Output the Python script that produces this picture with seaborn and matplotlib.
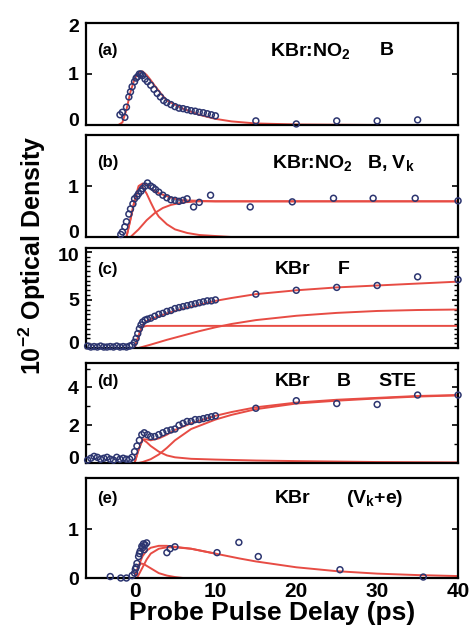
import numpy as np
import pandas as pd
import matplotlib
matplotlib.use('Agg')
import matplotlib.pyplot as plt
from matplotlib.ticker import MultipleLocator
from matplotlib.transforms import ScaledTranslation
import seaborn as sns

# ---- data ----
# (a) KBr:NO2  B
a_t = [-1.8, -1.5, -1.2, -1.0, -0.7, -0.5, -0.3, 0.0, 0.2, 0.4, 0.6, 0.8, 1.0, 1.3, 1.6, 2.0, 2.4,
       2.8, 3.2, 3.6, 4.0, 4.5, 5.0, 5.5, 6.0, 6.5, 7.0, 7.5, 8.0, 8.5, 9.0, 9.5, 10, 15, 20, 25, 30, 35]
a_od = [0.2, 0.25, 0.15, 0.35, 0.55, 0.65, 0.75, 0.85, 0.92, 0.95, 1.0, 1.0, 0.97, 0.9, 0.85, 0.78, 0.7,
        0.62, 0.55, 0.48, 0.44, 0.4, 0.36, 0.33, 0.32, 0.3, 0.28, 0.27, 0.25, 0.24, 0.22, 0.2, 0.18,
        0.08, 0.02, 0.08, 0.08, 0.1]
a_fit_t = [-6, -2, -1.5, -1.0, -0.5, 0, 0.5, 1.0, 1.5, 2.0, 2.5, 3.0, 3.5, 4.0, 5.0, 6.0, 7.0, 8.0,
           10, 12, 15, 20, 30, 40]
a_fit = [0, 0, 0.05, 0.3, 0.65, 0.9, 1.03, 1.05, 0.98, 0.88, 0.77, 0.67, 0.57, 0.48, 0.4, 0.32, 0.26,
         0.2, 0.12, 0.07, 0.03, 0.01, 0.0, 0.0]

# (b) KBr:NO2  B, Vk
b_t = [-1.7, -1.5, -1.2, -1.0, -0.7, -0.5, -0.2, 0.0, 0.3, 0.5, 0.8, 1.0, 1.3, 1.6, 2.0, 2.3, 2.6,
       3.0, 3.5, 4.0, 4.5, 5.0, 5.5, 6.0, 6.5, 7.3, 8.0, 9.4, 14.3, 19.5, 24.6, 29.5, 34.7, 40]
b_od = [0.05, 0.1, 0.2, 0.3, 0.45, 0.55, 0.65, 0.75, 0.8, 0.85, 0.9, 0.95, 1.0, 1.06, 1.0, 0.97, 0.93,
        0.88, 0.82, 0.77, 0.73, 0.72, 0.7, 0.72, 0.75, 0.59, 0.68, 0.82, 0.59, 0.69, 0.76, 0.76, 0.76, 0.71]
b_tot_t = [-6, -1.0, -0.5, 0, 0.5, 1.0, 1.5, 2.0, 2.5, 3.0, 4.0, 5.0, 6.0, 8.0, 10, 40]
b_tot = [0, 0, 0.35, 0.72, 1.0, 1.05, 1.02, 0.95, 0.9, 0.86, 0.8, 0.75, 0.72, 0.71, 0.7, 0.7]
b_b_t = [-1.0, -0.5, 0, 0.5, 1.0, 1.5, 2.0, 2.5, 3.0, 4.0, 5.0, 6.5, 8.0, 10, 12, 40]
b_b = [0, 0.35, 0.7, 0.95, 0.98, 0.85, 0.68, 0.52, 0.4, 0.25, 0.15, 0.08, 0.04, 0.02, 0.0, 0.0]
b_vk_t = [-0.5, 0.5, 1.5, 2.5, 3.5, 4.5, 6.0, 8.0, 40]
b_vk = [0, 0.15, 0.33, 0.47, 0.57, 0.63, 0.68, 0.7, 0.7]

# (c) KBr  F
c_t = [-5.8, -5.4, -5.0, -4.6, -4.2, -3.8, -3.4, -3.0, -2.6, -2.2, -1.8, -1.4, -1.0, -0.6, -0.3,
       0.0, 0.2, 0.4, 0.6, 0.8, 1.0, 1.3, 1.6, 2.0, 2.5, 3.0, 3.5, 4.0, 4.5, 5.0, 5.5, 6.0, 6.5,
       7.0, 7.5, 8.0, 8.5, 9.0, 9.5, 10, 15, 20, 25, 30, 35, 40]
c_od = [0.2, 0.1, 0.15, 0.1, 0.2, 0.1, 0.1, 0.15, 0.1, 0.2, 0.1, 0.15, 0.1, 0.2, 0.3,
        0.6, 1.0, 1.5, 2.0, 2.4, 2.7, 2.9, 3.0, 3.1, 3.3, 3.5, 3.6, 3.8, 3.9, 4.1, 4.2, 4.3, 4.4,
        4.5, 4.6, 4.7, 4.8, 4.9, 4.9, 5.0, 5.6, 6.0, 6.3, 6.5, 7.4, 7.1]
c_tot_t = [-6, 0, 0.5, 1.0, 1.5, 2, 3, 4, 6, 8, 10, 12, 15, 20, 25, 30, 35, 40]
c_tot = [0, 0, 1.3, 2.4, 2.8, 3.0, 3.3, 3.6, 4.1, 4.5, 4.9, 5.2, 5.6, 6.0, 6.3, 6.5, 6.7, 6.9]
c_f1_t = [0, 0.5, 1.0, 1.5, 40]
c_f1 = [0, 1.2, 2.2, 2.3, 2.3]
c_f2_t = [0.5, 2, 4, 6, 8, 10, 12, 15, 20, 25, 30, 35, 40]
c_f2 = [0, 0.35, 0.85, 1.3, 1.75, 2.15, 2.5, 2.9, 3.35, 3.65, 3.85, 3.95, 4.0]

# (d) KBr  B  STE
d_t = [-5.8, -5.4, -5.0, -4.6, -4.2, -3.8, -3.4, -3.0, -2.6, -2.2, -1.8, -1.4, -1.0, -0.6, -0.3,
       0.0, 0.3, 0.6, 0.9, 1.2, 1.6, 2.0, 2.5, 3.0, 3.5, 4.0, 4.5, 5.0, 5.5, 6.0, 6.5, 7.0, 7.5,
       8.0, 8.5, 9.0, 9.5, 10, 15, 20, 25, 30, 35, 40]
d_od = [0.15, 0.25, 0.35, 0.3, 0.2, 0.25, 0.3, 0.2, 0.15, 0.3, 0.2, 0.25, 0.2, 0.2, 0.3,
        0.6, 0.9, 1.2, 1.5, 1.6, 1.5, 1.4, 1.4, 1.5, 1.6, 1.7, 1.75, 1.8, 2.0, 2.1, 2.2, 2.2, 2.3,
        2.3, 2.35, 2.4, 2.45, 2.5, 2.9, 3.3, 3.15, 3.1, 3.6, 3.6]
d_tot_t = [0, 0.5, 1.0, 1.5, 2, 3, 4, 5, 7, 10, 12, 15, 20, 25, 30, 35, 40]
d_tot = [0, 0.7, 1.25, 1.25, 1.2, 1.3, 1.5, 1.75, 2.1, 2.5, 2.7, 2.95, 3.2, 3.35, 3.45, 3.55, 3.6]
d_b_t = [0, 0.5, 1.0, 1.5, 2, 3, 4, 5, 7, 10, 15, 20, 30, 40]
d_b = [0, 0.7, 1.25, 1.1, 0.9, 0.6, 0.4, 0.3, 0.22, 0.18, 0.13, 0.1, 0.05, 0.03]
d_ste_t = [0.5, 1, 2, 3, 4, 5, 7, 10, 12, 15, 20, 25, 30, 35, 40]
d_ste = [0, 0.05, 0.2, 0.45, 0.8, 1.2, 1.8, 2.3, 2.55, 2.85, 3.15, 3.3, 3.42, 3.52, 3.58]

# (e) KBr  (Vk+e)
e_t = [-3.0, -1.7, -1.0, -0.3, 0.0, 0.1, 0.2, 0.3, 0.5, 0.6, 0.7, 0.9, 1.0, 1.1, 1.2, 1.3, 1.5,
       4.0, 4.4, 5.0, 10.2, 12.9, 15.3, 25.4, 35.7]
e_od = [0.03, 0.0, 0.0, 0.05, 0.1, 0.18, 0.22, 0.3, 0.44, 0.5, 0.55, 0.65, 0.62, 0.7, 0.58, 0.68, 0.72,
        0.52, 0.6, 0.64, 0.52, 0.73, 0.44, 0.17, 0.02]
e_tot_t = [-6, 0, 0.5, 1.0, 1.5, 2, 3, 4, 5, 7, 10, 13, 15, 20, 25, 30, 35, 40]
e_tot = [0, 0, 0.25, 0.45, 0.56, 0.62, 0.66, 0.66, 0.64, 0.6, 0.5, 0.4, 0.34, 0.22, 0.14, 0.09, 0.06, 0.04]
e_fast_t = [0, 0.4, 0.8, 1.2, 2, 3, 4, 5, 6]
e_fast = [0, 0.2, 0.3, 0.28, 0.2, 0.1, 0.05, 0.02, 0]
e_slow_t = [0.3, 1.0, 1.5, 2.0, 3.0, 4.0, 5.0, 7, 10]
e_slow = [0, 0.22, 0.38, 0.5, 0.6, 0.63, 0.63, 0.6, 0.5]

# ---- style ----
sns.set_style('ticks')
plt.rcParams['font.family'] = ['Liberation Sans', 'DejaVu Sans']
plt.rcParams['font.weight'] = 'bold'
plt.rcParams['mathtext.fontset'] = 'custom'
plt.rcParams['mathtext.rm'] = 'Liberation Sans:bold'
plt.rcParams['mathtext.it'] = 'Liberation Sans:bold'
plt.rcParams['mathtext.bf'] = 'Liberation Sans:bold'
plt.rcParams['mathtext.default'] = 'rm'
for key in ['text.color', 'axes.labelcolor', 'xtick.color', 'ytick.color', 'axes.edgecolor']:
    plt.rcParams[key] = 'black'

RED = '#e74c44'
NAVY = '#2c3570'

fig = plt.figure(figsize=(4.77, 6.37), dpi=100)
fig.patch.set_facecolor('white')

left, width = 0.1803, 0.78
panels = [
    dict(pos=(0.8038, 0.1601), pts=(a_t, a_od), fits=[(a_fit_t, a_fit)], ylim=2.0,
         yticks=[0, 1, 2], minor=None, tag='(a)',
         texts=[(0.495, 0.73, 'KBr:NO$_{2}$'), (0.79, 0.73, 'B')]),
    dict(pos=(0.6279, 0.1601), pts=(b_t, b_od), fits=[(b_tot_t, b_tot), (b_b_t, b_b), (b_vk_t, b_vk)],
         ylim=2.0, yticks=[0, 1], minor=None, tag='(b)',
         texts=[(0.5, 0.73, 'KBr:NO$_{2}$'), (0.755, 0.73, 'B, V$_{k}$')]),
    dict(pos=(0.4537, 0.157), pts=(c_t, c_od), fits=[(c_tot_t, c_tot), (c_f1_t, c_f1), (c_f2_t, c_f2)],
         ylim=10.4, yticks=[0, 5, 10], minor=0.5, tag='(c)',
         texts=[(0.508, 0.78, 'KBr'), (0.677, 0.78, 'F')]),
    dict(pos=(0.2732, 0.157), pts=(d_t, d_od), fits=[(d_tot_t, d_tot), (d_b_t, d_b), (d_ste_t, d_ste)],
         ylim=5.3, yticks=[0, 2, 4], minor=1.0, tag='(d)',
         texts=[(0.508, 0.81, 'KBr'), (0.675, 0.81, 'B'), (0.785, 0.81, 'STE')]),
    dict(pos=(0.0926, 0.157), pts=(e_t, e_od), fits=[(e_tot_t, e_tot), (e_fast_t, e_fast), (e_slow_t, e_slow)],
         ylim=2.05, yticks=[0, 1], minor=None, tag='(e)',
         texts=[(0.508, 0.8, 'KBr'), (0.70, 0.8, '(V$_{k}$+e)')]),
]

axes = []
for i, p in enumerate(panels):
    ax = fig.add_axes([left, p['pos'][0], width, p['pos'][1]])
    for ft, fv in p['fits']:
        sns.lineplot(x=ft, y=fv, ax=ax, color=RED, lw=1.4, estimator=None, sort=False, zorder=2)
    df = pd.DataFrame({'t': p['pts'][0], 'od': p['pts'][1]})
    sns.scatterplot(data=df, x='t', y='od', ax=ax, s=18, facecolor='none', edgecolor=NAVY,
                    linewidth=1.1, zorder=3, clip_on=False)
    ax.set_xlim(-6, 40)
    ax.set_ylim(0, p['ylim'])
    ax.set_yticks(p['yticks'])
    if p['minor']:
        ax.yaxis.set_minor_locator(MultipleLocator(p['minor']))
        ax.tick_params(axis='y', which='minor', direction='in', left=True, right=True, length=3, width=1)
    ax.tick_params(axis='y', which='major', direction='in', left=True, right=True, length=4, width=1.2,
                   labelsize=14, pad=5)
    ax.set_xticks([0, 10, 20, 30, 40])
    ax.tick_params(axis='x', length=0, labelsize=15, pad=3)
    if i < len(panels) - 1:
        ax.set_xticklabels([])
    ax.set_xlabel('')
    ax.set_ylabel('')
    for s in ax.spines.values():
        s.set_linewidth(1.6)
        s.set_visible(True)
    # nudge the end tick labels apart, as in the scanned original
    labels = ax.get_yticklabels()
    if i < len(panels) - 1:
        labels[0].set_transform(labels[0].get_transform() + ScaledTranslation(0, 4 / 72, fig.dpi_scale_trans))
    if p['yticks'][-1] >= p['ylim'] - 0.5:
        labels[-1].set_transform(labels[-1].get_transform() + ScaledTranslation(0, -2 / 72, fig.dpi_scale_trans))
    ax.text(0.03, p['texts'][0][1], p['tag'], transform=ax.transAxes, fontsize=12,
            fontweight='bold', va='center', ha='left')
    for tx, ty, label in p['texts']:
        ax.text(tx, ty, label, transform=ax.transAxes, fontsize=14, fontweight='bold',
                va='center', ha='left')
    axes.append(ax)

axes[-1].set_xlabel('Probe Pulse Delay (ps)', fontsize=19, fontweight='bold', labelpad=0)
fig.text(0.068, 0.6, '10$^{-2}$ Optical Density', rotation=90, fontsize=18,
         fontweight='bold', ha='center', va='center')

fig.savefig('out.png', dpi=100, facecolor='white')
